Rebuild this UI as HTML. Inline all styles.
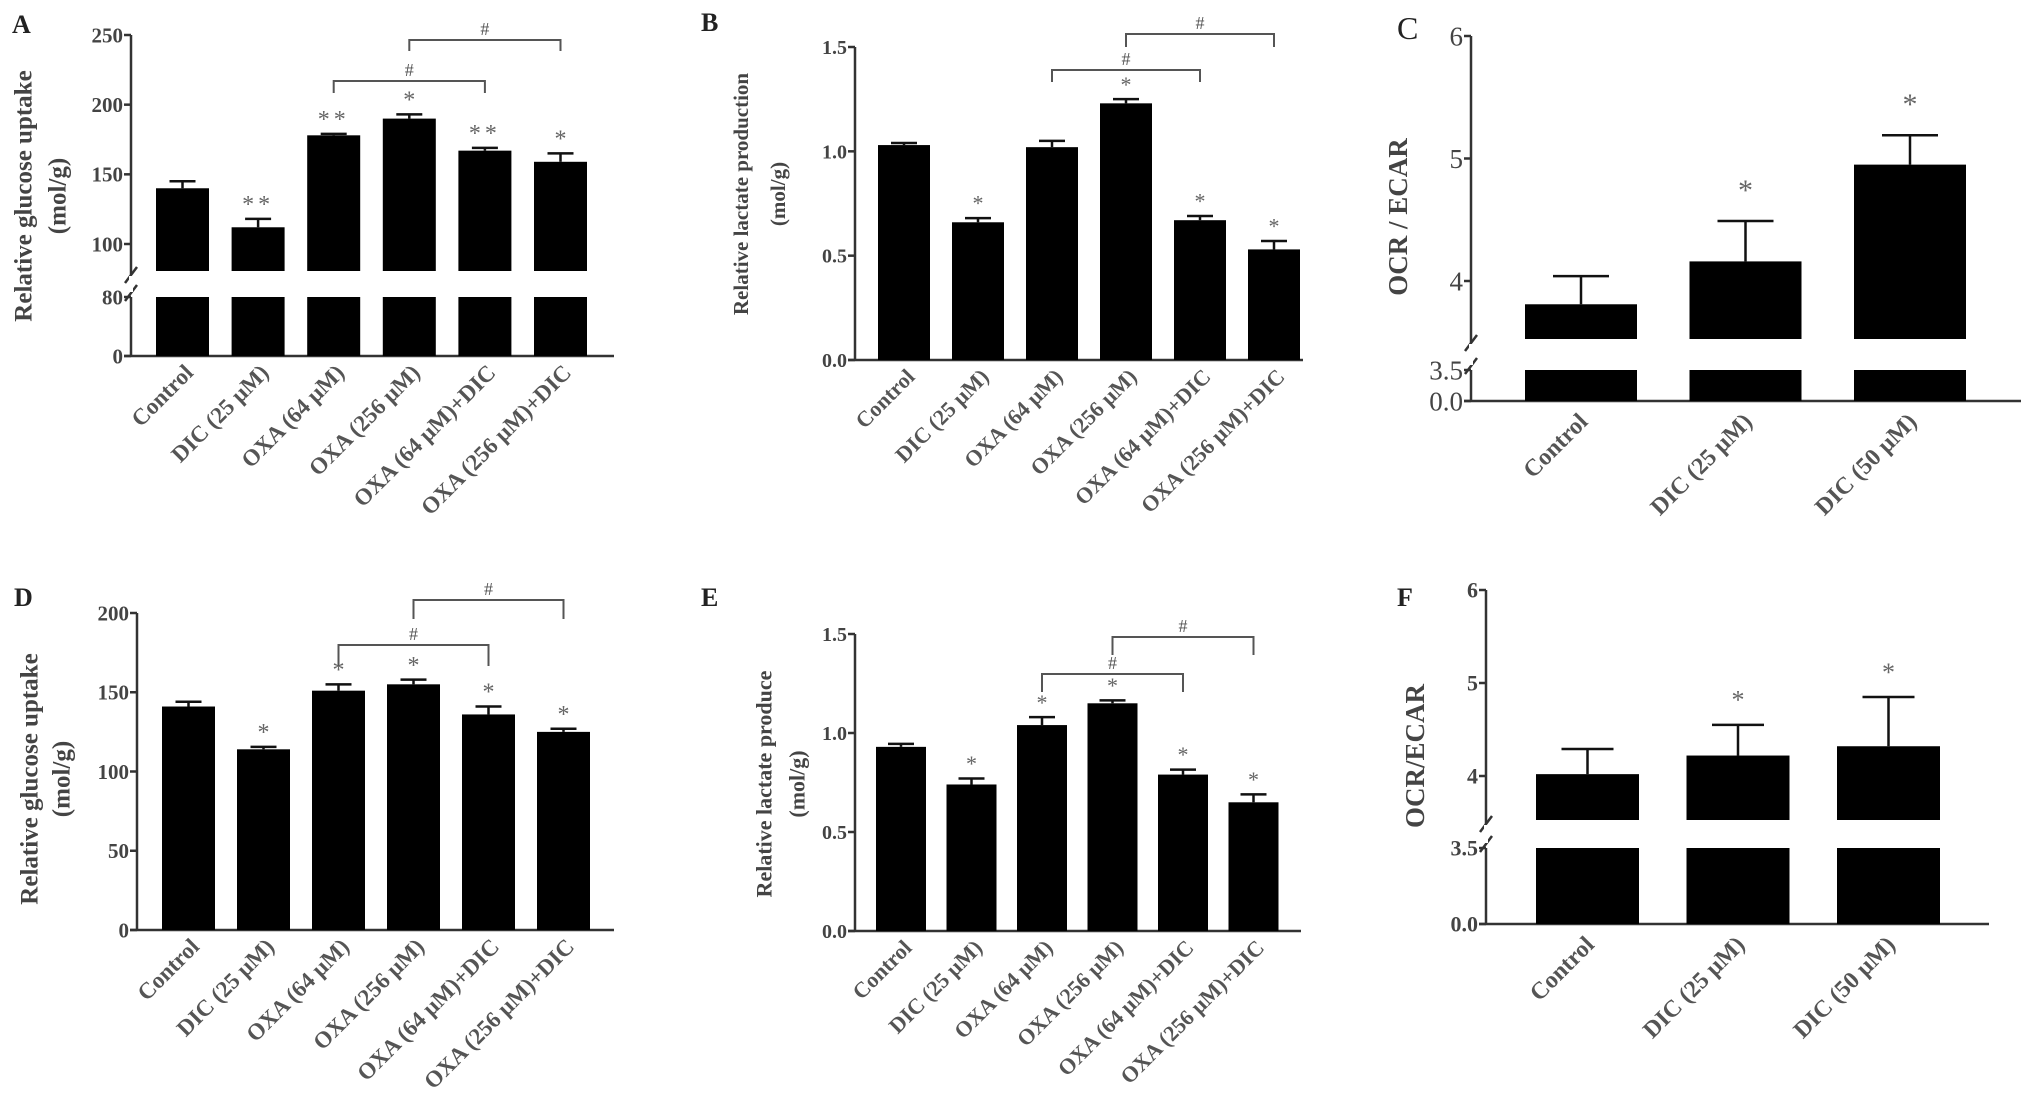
<!DOCTYPE html>
<html><head><meta charset="utf-8"><style>
html,body{margin:0;padding:0;background:#fff;}
svg{display:block;}
text{font-family:"Liberation Serif",serif;}
</style></head>
<body>
<svg id="fig" width="2031" height="1116" viewBox="0 0 2031 1116" xmlns="http://www.w3.org/2000/svg"></svg>
<script>
// ---- data ----
const catsSix = ["Control","DIC (25 μM)","OXA (64 μM)","OXA (256 μM)","OXA (64 μM)+DIC","OXA (256 μM)+DIC"];
const catsThree = ["Control","DIC (25 μM)","DIC (50 μM)"];
const valsA = [140,112,178,190,167,159];
const errA = [5,6,1,3,2,6];
const starsA = ["","**","**","*","**","*"];
const valsB = [1.03,0.66,1.02,1.23,0.67,0.53];
const errB = [0.01,0.02,0.03,0.02,0.02,0.04];
const starsB = ["","*","","*","*","*"];
const valsC = [3.81,4.16,4.95];
const errC = [0.23,0.33,0.24];
const starsC = ["","*","*"];
const valsD = [141,114,151,155,136,125];
const errD = [3,1.5,4,3,5,2];
const starsD = ["","*","*","*","*","*"];
const valsE = [0.93,0.74,1.04,1.15,0.79,0.65];
const errE = [0.015,0.03,0.04,0.015,0.025,0.04];
const starsE = ["","*","*","*","*","*"];
const valsF = [4.02,4.22,4.32];
const errF = [0.27,0.33,0.53];
const starsF = ["","*","*"];
const ticksA = [[100,150,200,250],[0,80]];
const tickLblA = [["100","150","200","250"],["0","80"]];
const ticksB = [0,0.5,1.0,1.5];
const tickLblB = ["0.0","0.5","1.0","1.5"];
const ticksC = [[4,5,6],[0,3.5]];
const tickLblC = [["4","5","6"],["0.0","3.5"]];
const ticksD = [0,50,100,150,200];
const tickLblD = ["0","50","100","150","200"];
const ticksE = [0,0.5,1.0,1.5];
const tickLblE = ["0.0","0.5","1.0","1.5"];
const ticksF = [[4,5,6],[0,3.5]];
const tickLblF = [["4","5","6"],["0.0","3.5"]];
const bracketPairs = [[2,4],[3,5]];

const NS="http://www.w3.org/2000/svg";
const svg=document.getElementById('fig');
function mk(tag,attrs,parent){const e=document.createElementNS(NS,tag);for(const k in attrs)e.setAttribute(k,attrs[k]);(parent||svg).appendChild(e);return e;}
function scale(a,b){return v=>a[1]+(v-a[0])*(b[1]-a[1])/(b[0]-a[0]);}

function panel(p){
  const g=mk('g',{});
  
  
  const L=mk('text',{x:p.lx,y:p.ly,'font-size':p.lfs||26,'font-weight':p.lbold===false?'normal':'bold',fill:'#222'},g);
  L.textContent=p.id;
  
  
  const segs=p.segs;
  const xEndX=p.xEnd;
  const yZero=segs[segs.length-1].yBot;
  segs.forEach((s,si)=>{
    const al=mk('line',{x1:p.ax,x2:p.ax,y1:s.yTop,y2:s.yBot+(si==segs.length-1?0:4),stroke:'#333','stroke-width':2.5},g);
    
    
    const sc=scale(s.r0,s.r1);
    s.ticks.forEach((t,ti)=>{
      const y=sc(t);
      mk('line',{x1:p.ax-7,x2:p.ax,y1:y,y2:y,stroke:'#333','stroke-width':2.5},g);
      const tl=mk('text',{x:p.ax-8,y:y+p.tfs*0.35,'text-anchor':'end','font-size':p.tfs,'font-weight':p.tbold?'bold':'normal',fill:'#444','font-family':p.tsans?'"Liberation Sans",sans-serif':'"Liberation Serif",serif'},g);
      tl.textContent=s.lbls[ti];
      
      
    });
  });
  if(segs.length>1){
    const yb=segs[0].yBot, yt=segs[1].yTop;
    [yb+4,yt-4].forEach(y=>{mk('line',{x1:p.ax-6,y1:y+8,x2:p.ax+6,y2:y-8,stroke:'#333','stroke-width':2.5},g);});
    mk('rect',{x:p.ax-2,y:yb+5,width:4,height:yt-yb-10,fill:'#fff'},g);
  }
  const xa=mk('line',{x1:p.ax-7,x2:xEndX,y1:yZero,y2:yZero,stroke:'#333','stroke-width':2.5},g);
  
  
  p.vals.forEach((v,i)=>{
    const cx=p.c0+i*p.pitch;
    segs.forEach(s=>{
      const sc=scale(s.r0,s.r1);
      const y=Math.max(s.yTop,sc(v));
      if(y<s.yBot){
        const r=mk('rect',{x:cx-p.bw/2,y:y,width:p.bw,height:s.yBot-y,fill:'#000'},g);
        
        
      }
    });
    const s0=segs[0], sc0=scale(s0.r0,s0.r1);
    const yv=sc0(v), ye=sc0(v+p.errs[i]);
    const el=mk('line',{x1:cx,x2:cx,y1:yv,y2:ye,stroke:'#111','stroke-width':2.5},g);
    
    
    mk('line',{x1:cx-p.cap,x2:cx+p.cap,y1:ye,y2:ye,stroke:'#111','stroke-width':2.5},g);
    if(p.stars[i]){
      const st=mk('text',{x:cx,y:ye-p.starGap+p.sfs*0.3,'text-anchor':'middle','font-size':p.sfs,fill:'#666','letter-spacing':p.stars[i].length>1?4:0},g);
      st.textContent=p.stars[i];
      
      
    }
    const ax=cx+p.xlo, ay=yZero+p.xly;
    const xl=mk('text',{x:ax,y:ay,'text-anchor':'end','font-size':p.xfs,'font-weight':'bold',fill:'#555',transform:`rotate(-45 ${ax} ${ay})`},g);
    xl.textContent=p.cats[i];
    
    
  });
  if(p.brackets){
    p.brackets.forEach((b,bi)=>{
      const x1=p.c0+bracketPairs[bi][0]*p.pitch, x2=p.c0+bracketPairs[bi][1]*p.pitch;
      const br=mk('path',{d:`M${x1} ${b[1]} V${b[0]} H${x2} V${b[1]}`,fill:'none',stroke:'#555','stroke-width':2},g);
      
      
      const h=mk('text',{x:(x1+x2)/2,y:b[0]-5,'text-anchor':'middle','font-size':18,fill:'#555'},g);
      h.textContent='#';
      
      
    });
  }
  p.titles.forEach((t)=>{
    const yt=mk('text',{x:t[1],y:p.ty,'text-anchor':'middle','dominant-baseline':'central','font-size':p.yfs,'font-weight':'bold',fill:'#444',transform:`rotate(-90 ${t[1]} ${p.ty})`},g);
    yt.textContent=t[0];
    
    
  });
}

panel({id:'A',lx:12,ly:33,ax:131,xEnd:614,c0:182.5,pitch:75.6,bw:53,cap:13,
  segs:[{r0:[100,244],r1:[250,35],yTop:35,yBot:271,ticks:ticksA[0],lbls:tickLblA[0]},
        {r0:[0,356],r1:[80,297],yTop:297,yBot:356,ticks:ticksA[1],lbls:tickLblA[1]}],
  vals:valsA,errs:errA,stars:starsA,cats:catsSix,starGap:14,sfs:24,
  tfs:21,tbold:true,xfs:23,xlo:12,xly:18,brackets:[[81,93],[40,51]],
  titles:[["Relative glucose uptake",24],["(mol/g)",58]],ty:196,yfs:25});
panel({id:'B',lx:701,ly:31,ax:855,xEnd:1303,c0:904,pitch:74,bw:52,cap:13,
  segs:[{r0:[0,360],r1:[1.5,47],yTop:47,yBot:360,ticks:ticksB,lbls:tickLblB}],
  vals:valsB,errs:errB,stars:starsB,cats:catsSix,starGap:14,sfs:22,
  tfs:20,tbold:true,xfs:22,xlo:12,xly:18,brackets:[[70,82],[34,47]],
  titles:[["Relative lactate production",741],["(mol/g)",778]],ty:194,yfs:21});
panel({id:'C',lx:1397,ly:39,lfs:32,lbold:false,ax:1471,xEnd:2021,c0:1581,pitch:164.5,bw:112,cap:28,
  segs:[{r0:[4,281],r1:[6,36],yTop:36,yBot:339,ticks:ticksC[0],lbls:tickLblC[0]},
        {r0:[0,401],r1:[3.5,370],yTop:370,yBot:401,ticks:ticksC[1],lbls:tickLblC[1]}],
  vals:valsC,errs:errC,stars:starsC,cats:catsThree,starGap:30,sfs:30,
  tfs:27,tbold:false,tsans:true,xfs:24,xlo:8,xly:22,
  titles:[["OCR / ECAR",1398]],ty:217,yfs:27});
panel({id:'D',lx:14,ly:606,ax:137,xEnd:614,c0:188.5,pitch:75,bw:53,cap:13,
  segs:[{r0:[0,930],r1:[200,613],yTop:613,yBot:930,ticks:ticksD,lbls:tickLblD}],
  vals:valsD,errs:errD,stars:starsD,cats:catsSix,starGap:14,sfs:24,
  tfs:21,tbold:true,xfs:23,xlo:12,xly:18,brackets:[[645,666],[600,619]],
  titles:[["Relative glucose uptake",30],["(mol/g)",62]],ty:779,yfs:25});
panel({id:'E',lx:701,ly:606,ax:855,xEnd:1301,c0:901,pitch:70.5,bw:50,cap:13,
  segs:[{r0:[0,931],r1:[1.5,634],yTop:634,yBot:931,ticks:ticksE,lbls:tickLblE}],
  vals:valsE,errs:errE,stars:starsE,cats:catsSix,starGap:14,sfs:22,
  tfs:20,tbold:true,xfs:22,xlo:12,xly:18,brackets:[[674,692],[637,655]],
  titles:[["Relative lactate produce",764],["(mol/g)",797]],ty:784,yfs:22});
panel({id:'F',lx:1397,ly:606,ax:1486,xEnd:1989,c0:1587.5,pitch:150.5,bw:103,cap:26,
  segs:[{r0:[4,776],r1:[6,590],yTop:590,yBot:820,ticks:ticksF[0],lbls:tickLblF[0]},
        {r0:[0,924],r1:[3.5,848],yTop:848,yBot:924,ticks:ticksF[1],lbls:tickLblF[1]}],
  vals:valsF,errs:errF,stars:starsF,cats:catsThree,starGap:24,sfs:26,
  tfs:22,tbold:true,xfs:24,xlo:8,xly:22,
  titles:[["OCR/ECAR",1415]],ty:756,yfs:27});
</script>
</body></html>
